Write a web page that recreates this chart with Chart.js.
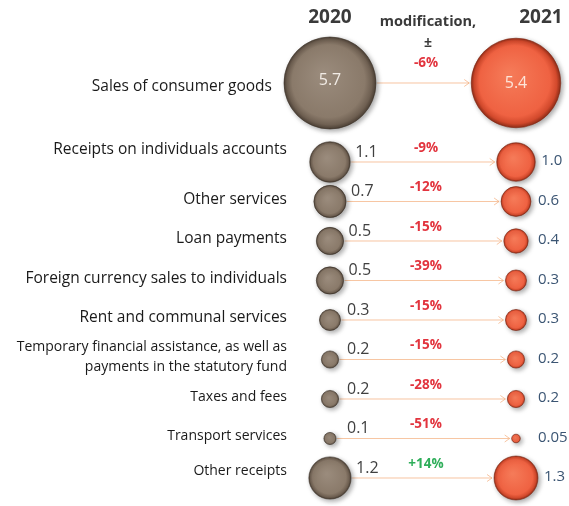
<!DOCTYPE html>
<html>
<head>
<meta charset="utf-8">
<script src="https://cdn.jsdelivr.net/npm/chart.js@4.4.1/dist/chart.umd.min.js"></script>
<style>
  html, body { margin: 0; padding: 0; background: #fff; }
  #wrap { width: 569px; height: 506px; position: relative; }
</style>
</head>
<body>
<div id="wrap"><canvas id="myChart"></canvas></div>
<script>
const categories = [
  'Sales of consumer goods',
  'Receipts on individuals accounts',
  'Other services',
  'Loan payments',
  'Foreign currency sales to individuals',
  'Rent and communal services',
  ['Temporary financial assistance, as well as', 'payments in the statutory fund'],
  'Taxes and fees',
  'Transport services',
  'Other receipts',
];
const values2020 = [5.7, 1.1, 0.7, 0.5, 0.5, 0.3, 0.2, 0.2, 0.1, 1.2];
const values2021 = [5.4, 1.0, 0.6, 0.4, 0.3, 0.3, 0.2, 0.2, 0.05, 1.3];
const changes = [-6, -9, -12, -15, -39, -15, -15, -28, -51, 14];
const years = ['2020', '2021'];

// first row gets a double-height slot
const rowPos = categories.map((c, i) => (i === 0 ? 0 : i + 1));
const radius = (v) => 46 * Math.sqrt(v / 5.7);
const fmt = (v) => (v < 0.1 ? v.toFixed(2) : v.toFixed(1));

function ballFill(ctx, light, mid, rim, dark) {
  if (ctx.type !== 'data' || !ctx.chart.scales.x || !ctx.raw) return mid;
  const c = ctx.chart.ctx;
  const x = ctx.chart.scales.x.getPixelForValue(ctx.raw.x);
  const y = ctx.chart.scales.y.getPixelForValue(ctx.raw.y);
  const r = ctx.raw.r;
  if (!isFinite(x) || !isFinite(y) || !isFinite(r)) return mid;
  const g = c.createRadialGradient(x - r * 0.15, y - r * 0.2, r * 0.05, x, y, r);
  g.addColorStop(0, light);
  g.addColorStop(0.78, mid);
  g.addColorStop(0.92, rim);
  g.addColorStop(1, dark);
  return g;
}

const bubbleDecor = {
  id: 'bubbleDecor',
  beforeDatasetsDraw(chart) {
    const ctx = chart.ctx;
    const a = chart.getDatasetMeta(0).data;
    const b = chart.getDatasetMeta(1).data;
    ctx.save();
    ctx.strokeStyle = 'rgba(244, 177, 131, 0.75)';
    ctx.lineWidth = 1;
    a.forEach((p, i) => {
      const q = b[i];
      const x0 = p.x + p.options.radius + 1;
      const x1 = q.x - q.options.radius - 2;
      const y = q.y;
      ctx.beginPath();
      ctx.moveTo(x0, y);
      ctx.lineTo(x1, y);
      ctx.moveTo(x1 - 5, y - 3.5);
      ctx.lineTo(x1, y);
      ctx.lineTo(x1 - 5, y + 3.5);
      ctx.stroke();
    });
    ctx.restore();
    ctx.save();
    ctx.shadowColor = 'rgba(0, 0, 0, 0.35)';
    ctx.shadowBlur = 5;
    ctx.shadowOffsetX = 2;
    ctx.shadowOffsetY = 2;
  },
  afterDatasetsDraw(chart) {
    const ctx = chart.ctx;
    ctx.restore();
    const a = chart.getDatasetMeta(0).data;
    const b = chart.getDatasetMeta(1).data;
    const xs = chart.scales.x;

    ctx.save();
    // headers
    ctx.textAlign = 'center';
    ctx.textBaseline = 'middle';
    ctx.fillStyle = '#3a3a3a';
    ctx.font = 'bold 19px "Open Sans"';
    ctx.fillText(years[0], xs.getPixelForValue(0), 18);
    ctx.fillText(years[1], xs.getPixelForValue(1) + 25, 18);
    ctx.font = 'bold 14.5px "Open Sans"';
    ctx.fillText('modification,', 428, 22);
    ctx.font = 'bold 14px "Open Sans"';
    ctx.fillText('±', 428, 43);

    a.forEach((p, i) => {
      const q = b[i];
      const r0 = p.options.radius;
      const r1 = q.options.radius;

      // category label
      ctx.fillStyle = '#1a1a1a';
      ctx.textAlign = 'right';
      ctx.textBaseline = 'middle';
      ctx.font = (i >= 6 ? '14px' : '15.5px') + ' "Open Sans"';
      const right = Math.min(287, p.x - r0 - 12);
      const lines = Array.isArray(categories[i]) ? categories[i] : [categories[i]];
      const off = i === 0 ? 4 : i === 1 ? -12 : i === 9 ? -7 : -2;
      lines.forEach((t, k) => {
        ctx.fillText(t, right, p.y + off + (k - (lines.length - 1) / 2) * 20);
      });

      // values
      if (r0 > 30) {
        ctx.font = '16px "Open Sans"';
        ctx.textAlign = 'center';
        ctx.fillStyle = '#f2ece6';
        ctx.fillText(fmt(values2020[i]), p.x, p.y - 3);
        ctx.fillStyle = '#fde4d8';
        ctx.fillText(fmt(values2021[i]), q.x, q.y);
      } else {
        ctx.textAlign = 'left';
        ctx.font = '16px "Open Sans"';
        ctx.fillStyle = '#404040';
        ctx.fillText(fmt(values2020[i]), p.x + Math.max(r0, 12) + 5, p.y - 10);
        ctx.font = '15px "Open Sans"';
        ctx.fillStyle = '#3b5573';
        ctx.fillText(fmt(values2021[i]), q.x + Math.max(r1, 16) + 6, q.y - 1);
      }

      // change
      const c = changes[i];
      ctx.textAlign = 'center';
      ctx.font = 'bold 13.5px "Open Sans"';
      ctx.fillStyle = c >= 0 ? '#2fae5a' : '#e2343e';
      ctx.fillText((c > 0 ? '+' : '') + c + '%', 426, p.y - (i === 0 ? 20 : 14));
    });
    ctx.restore();
  },
};

const ctx = document.getElementById('myChart').getContext('2d');
const myChart = new Chart(ctx, {
  type: 'bubble',
  data: {
    datasets: [
      {
        label: years[0],
        data: values2020.map((v, i) => ({ x: 0, y: rowPos[i], r: radius(v) })),
        backgroundColor: (c) => ballFill(c, '#9a8b7c', '#8a7a6a', '#6f6052', '#4d4136'),
        borderColor: 'rgba(60, 50, 40, 0.6)',
        borderWidth: 1,
        clip: false,
      },
      {
        label: years[1],
        data: values2021.map((v, i) => ({ x: 1, y: rowPos[i], r: radius(v) })),
        backgroundColor: (c) => ballFill(c, '#f57a58', '#ef6242', '#d2492c', '#8f2d18'),
        borderColor: 'rgba(130, 40, 20, 0.6)',
        borderWidth: 1,
        clip: false,
      },
    ],
  },
  options: {
    responsive: true,
    maintainAspectRatio: false,
    animation: false,
    events: [],
    layout: { padding: 0, autoPadding: false },
    plugins: {
      legend: { display: false },
      tooltip: { enabled: false },
    },
    scales: {
      x: { type: 'linear', display: false, min: -1.774, max: 1.285 },
      y: { type: 'linear', display: false, reverse: true, min: -2.101, max: 10.709 },
    },
  },
  plugins: [bubbleDecor],
});
</script>
</body>
</html>
